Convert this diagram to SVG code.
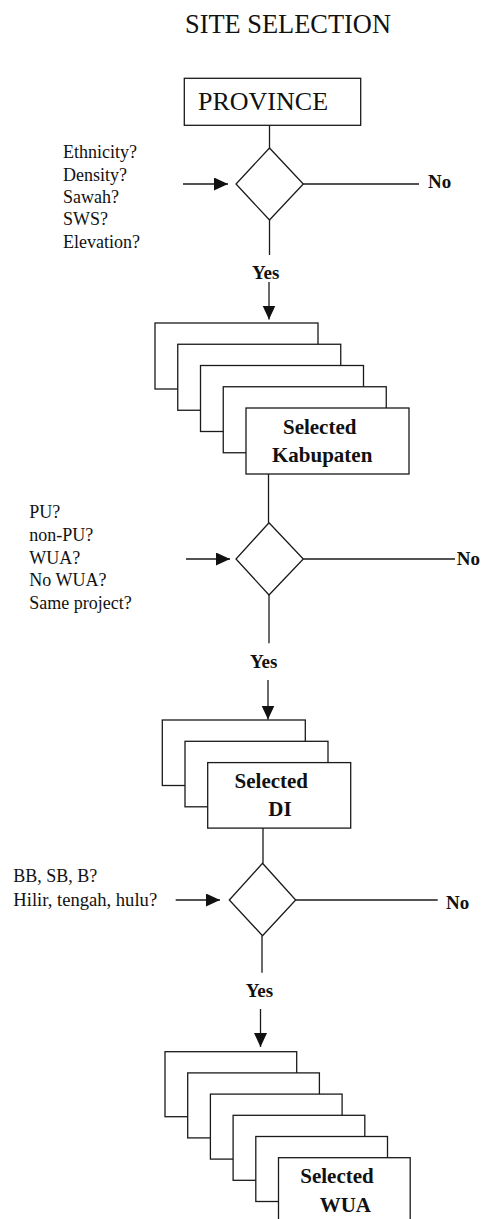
<svg xmlns="http://www.w3.org/2000/svg" width="485" height="1219" viewBox="0 0 485 1219">
<defs>
<style>
.box{fill:#fff;stroke:#1a1a1a;stroke-width:1.3}
.dia{fill:#fff;stroke:#1a1a1a;stroke-width:1.3}
.ln{fill:none;stroke:#1a1a1a;stroke-width:1.3}
.t{font-family:"Liberation Serif","Times New Roman",serif;fill:#111}
.q{font-size:18px}
.b{font-size:19px;font-weight:bold}
.nb{font-size:21px;font-weight:bold;text-anchor:middle}
</style>
<marker id="ah" markerUnits="userSpaceOnUse" markerWidth="15" markerHeight="14" refX="14" refY="6.5" orient="auto">
<path d="M0,0 L14,6.5 L0,13 Z" fill="#111"/>
</marker>
</defs>
<text class="t" x="185" y="33" font-size="26.4">SITE SELECTION</text>
<g id="province">
<rect class="box" x="184.3" y="78.3" width="176.4" height="47"/>
<text class="t" x="198" y="110" font-size="26">PROVINCE</text>
</g>
<g id="decision1">
<polygon class="dia" points="269.5,148 303.3,184 269.5,220 236,184"/>
<text class="t q" x="63" y="158.3">Ethnicity?</text>
<text class="t q" x="63" y="180.6">Density?</text>
<text class="t q" x="63" y="202.9">Sawah?</text>
<text class="t q" x="63" y="225.2">SWS?</text>
<text class="t q" x="63" y="247.5">Elevation?</text>
</g>
<g id="kabupaten">
<rect class="box" x="155" y="323" width="163" height="66"/>
<rect class="box" x="177.75" y="344.25" width="163" height="66"/>
<rect class="box" x="200.5" y="365.5" width="163" height="66"/>
<rect class="box" x="223.25" y="386.75" width="163" height="66"/>
<rect class="box" x="246" y="408" width="163" height="66"/>
<text class="t nb" x="319.7" y="434.3">Selected</text>
<text class="t nb" x="322.2" y="462.3">Kabupaten</text>
</g>
<g id="decision2">
<polygon class="dia" points="269,522.7 303.3,559 269,595 236,559"/>
<text class="t q" x="29.3" y="518.3">PU?</text>
<text class="t q" x="29.3" y="541">non-PU?</text>
<text class="t q" x="29.3" y="563.7">WUA?</text>
<text class="t q" x="29.3" y="586.4">No WUA?</text>
<text class="t q" x="29.3" y="609.1">Same project?</text>
</g>
<g id="di">
<rect class="box" x="162.3" y="720" width="143" height="65.5"/>
<rect class="box" x="185" y="741.3" width="143" height="65.5"/>
<rect class="box" x="207.7" y="762.6" width="143" height="65.5"/>
<text class="t nb" x="271.3" y="788.3">Selected</text>
<text class="t nb" x="280" y="816">DI</text>
</g>
<g id="decision3">
<polygon class="dia" points="262.5,863.3 295.7,900 262.5,935.7 229.3,900"/>
<text class="t" x="13.3" y="881.7" font-size="18">BB, SB, B?</text>
<text class="t" x="13.3" y="905.7" font-size="18.6">Hilir, tengah, hulu?</text>
</g>
<g id="wua">
<rect class="box" x="165" y="1051.7" width="131.7" height="65"/>
<rect class="box" x="187.7" y="1072.9" width="131.7" height="65"/>
<rect class="box" x="210.4" y="1094.1" width="131.7" height="65"/>
<rect class="box" x="233.1" y="1115.3" width="131.7" height="65"/>
<rect class="box" x="255.8" y="1136.5" width="131.7" height="65"/>
<rect class="box" x="278.5" y="1157.7" width="131.7" height="65"/>
<text class="t nb" x="337" y="1183.3">Selected</text>
<text class="t nb" x="345.3" y="1211.7">WUA</text>
</g>
<g id="connectors">
<line class="ln" x1="269.5" y1="125.3" x2="269.5" y2="148"/>
<line class="ln" x1="183" y1="184" x2="228" y2="184" marker-end="url(#ah)"/>
<line class="ln" x1="303.3" y1="184" x2="419" y2="184"/>
<line class="ln" x1="269.5" y1="220" x2="269.5" y2="255"/>
<line class="ln" x1="269" y1="282" x2="269" y2="319.5" marker-end="url(#ah)"/>
<line class="ln" x1="268.5" y1="474" x2="268.5" y2="522.7"/>
<line class="ln" x1="186" y1="559" x2="230" y2="559" marker-end="url(#ah)"/>
<line class="ln" x1="303.3" y1="559" x2="455" y2="559"/>
<line class="ln" x1="269" y1="595" x2="269" y2="643.3"/>
<line class="ln" x1="268" y1="680" x2="268" y2="719.5" marker-end="url(#ah)"/>
<line class="ln" x1="263" y1="828.1" x2="263" y2="863.3"/>
<line class="ln" x1="175.7" y1="900" x2="220" y2="900" marker-end="url(#ah)"/>
<line class="ln" x1="295.7" y1="900" x2="437.7" y2="900"/>
<line class="ln" x1="262" y1="935.7" x2="262" y2="972.7"/>
<line class="ln" x1="260.5" y1="1009" x2="260.5" y2="1047" marker-end="url(#ah)"/>
<text class="t b" x="428" y="188">No</text>
<text class="t b" x="456.7" y="565">No</text>
<text class="t b" x="446" y="909">No</text>
<text class="t b" x="252" y="279.3">Yes</text>
<text class="t b" x="250" y="668.3">Yes</text>
<text class="t b" x="245.7" y="996.7">Yes</text>
</g>
</svg>
